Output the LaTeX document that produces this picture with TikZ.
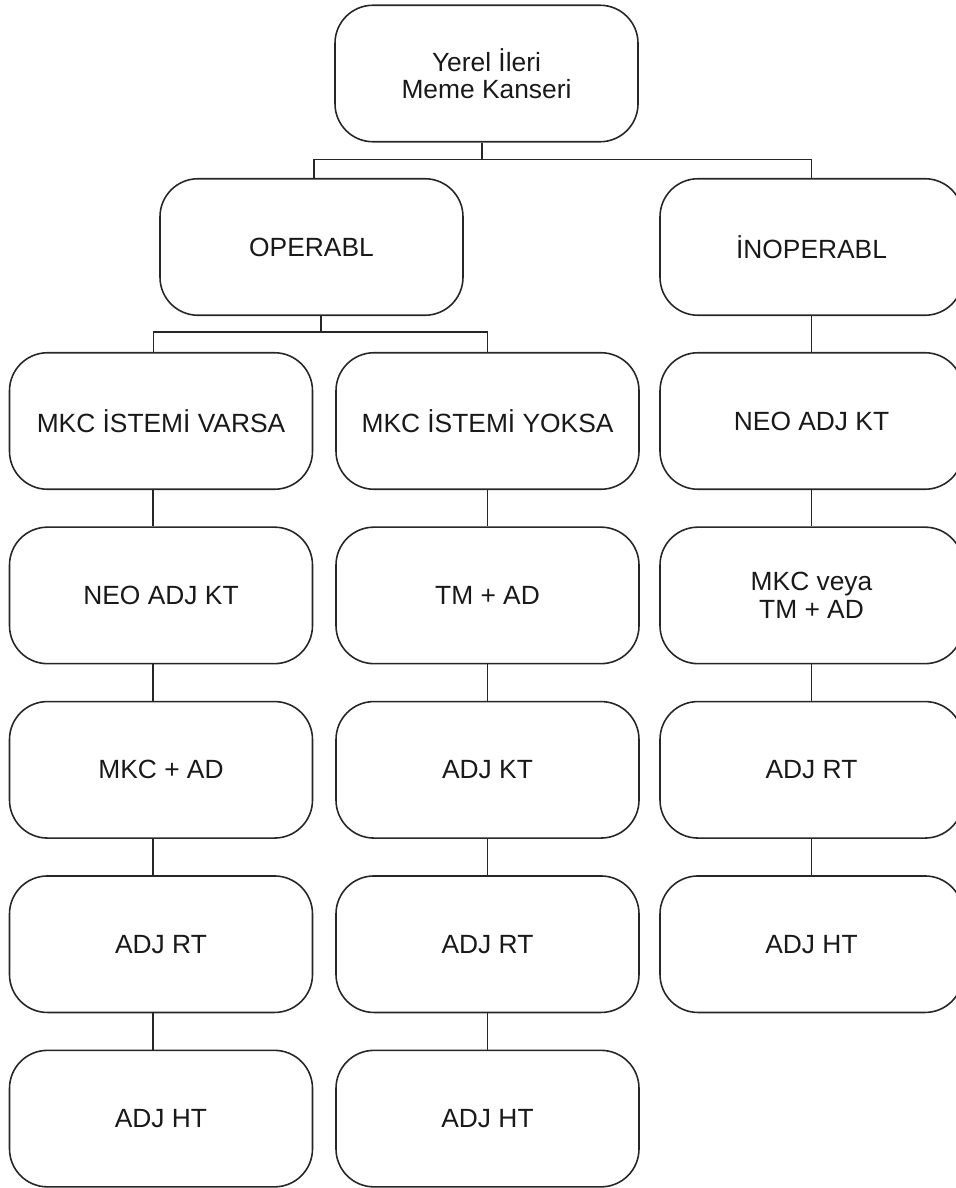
\documentclass[tikz,border=0pt]{standalone}
\usepackage{fontspec}
\setmainfont{Liberation Sans}

\begin{document}
\begin{tikzpicture}[
  kutu/.style={draw=black!85, line width=0.9pt, rounded corners=0.76cm,
    minimum width=6.06cm, minimum height=2.73cm, align=center,
    text=black!90, font=\fontsize{15}{15.5}\selectfont},
  hat/.style={draw=black!85, line width=0.9pt}]
\useasboundingbox (0,0) rectangle (19.1,-23.76);
% ust seviye
\node[kutu] (yerel) at (9.73,-1.47) {Yerel İleri\\Meme Kanseri};
\node[kutu] (operabl) at (6.23,-4.94) {OPERABL};
\node[kutu] (inoperabl) at (16.23,-4.94) {İNOPERABL};
% sutunlar
\foreach \i/\t in {1/MKC İSTEMİ VARSA, 2/NEO ADJ KT, 3/MKC + AD, 4/ADJ RT, 5/ADJ HT}
  \node[kutu] (v\i) at (3.22,-8.42-3.488*\i+3.488) {\t};
\foreach \i/\t in {1/MKC İSTEMİ YOKSA, 2/TM + AD, 3/ADJ KT, 4/ADJ RT, 5/ADJ HT}
  \node[kutu] (y\i) at (9.75,-8.42-3.488*\i+3.488) {\t};
\foreach \i/\t in {1/NEO ADJ KT, 2/MKC veya\\TM + AD, 3/ADJ RT, 4/ADJ HT}
  \node[kutu] (n\i) at (16.23,-8.42-3.488*\i+3.488) {\t};
% baglantilar
\draw[hat] ([xshift=-0.09cm]yerel.south) -- ++(0,-0.34) coordinate (t1);
\draw[hat] ([xshift=0.05cm]operabl.north) |- (t1) -| (inoperabl.north);
\draw[hat] ([xshift=0.19cm]operabl.south) -- ++(0,-0.32) coordinate (t2);
\draw[hat] ([xshift=-0.15cm]v1.north) |- (t2) -| (y1.north);
\draw[hat] (inoperabl.south) -- (n1.north);
\foreach \i/\j in {1/2,2/3,3/4,4/5} {
  \draw[hat] ([xshift=-0.16cm]v\i.south) -- ([xshift=-0.16cm]v\j.north);
  \draw[hat] (y\i.south) -- (y\j.north);
}
\foreach \i/\j in {1/2,2/3,3/4}
  \draw[hat] (n\i.south) -- (n\j.north);
\end{tikzpicture}
\end{document}
